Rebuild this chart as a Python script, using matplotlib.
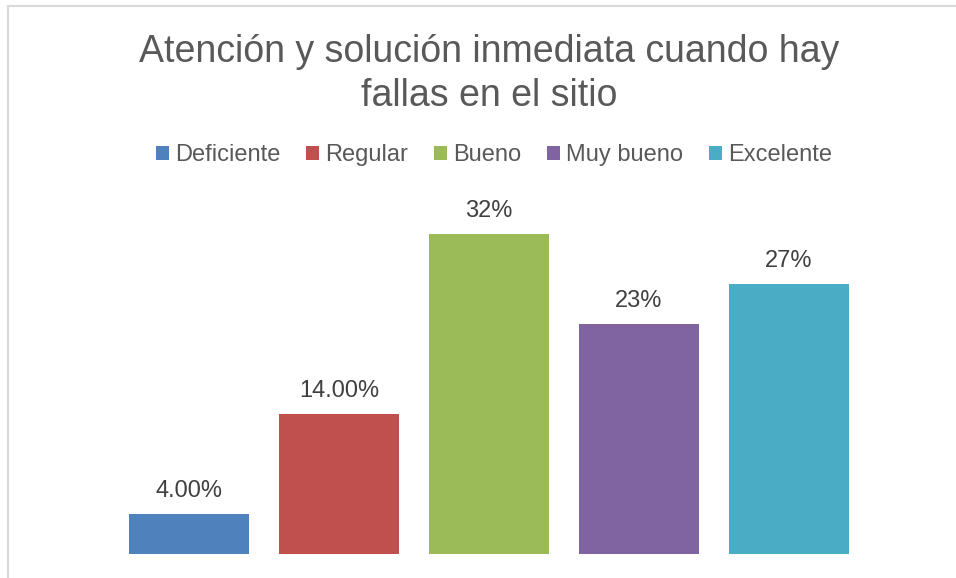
import matplotlib.pyplot as plt
from matplotlib.lines import Line2D

plt.rcParams['font.family'] = ['Liberation Sans', 'DejaVu Sans']

categories = ["Deficiente", "Regular", "Bueno", "Muy bueno", "Excelente"]
values = [0.04, 0.14, 0.32, 0.23, 0.27]
labels = ["4.00%", "14.00%", "32%", "23%", "27%"]
colors = ["#4F81BD", "#C0504D", "#9BBB59", "#8064A2", "#4BACC6"]

W, H = 956, 578
fig = plt.figure(figsize=(W / 100, H / 100), dpi=100)

# plot area in pixels: x 114..864, y baseline 554, top 204 (=0.35)
ax = fig.add_axes([114 / W, (H - 554) / H, 750 / W, 350 / H])
x = range(len(categories))
bars = ax.bar(x, values, width=0.8, color=colors, label=categories)
ax.set_xlim(-0.5, len(categories) - 0.5)
ax.set_ylim(0, 0.35)
ax.axis("off")

for b, lab in zip(bars, labels):
    ax.annotate(lab, (b.get_x() + b.get_width() / 2, b.get_height()),
                xytext=(0, 12), textcoords="offset points",
                ha="center", va="baseline", fontsize=17, color="#404040")

fig.text(489 / W, 1 - 74 / H, "Atención y solución inmediata cuando hay\nfallas en el sitio",
         ha="center", va="center", fontsize=27, color="#595959", linespacing=1.32)

leg = fig.legend(handles=list(bars), labels=categories, ncol=5, loc="center",
                 bbox_to_anchor=(494 / W, 1 - 155 / H), frameon=False,
                 fontsize=17, handlelength=0.55, handleheight=0.55,
                 handletextpad=0.25, columnspacing=1.1)
for t in leg.get_texts():
    t.set_color("#595959")

# chart border (left and top edges visible)
fig.add_artist(Line2D([8 / W, 8 / W], [0, 1 - 6 / H], color="#D9D9D9", lw=1.5))
fig.add_artist(Line2D([8 / W, 1], [1 - 6 / H, 1 - 6 / H], color="#D9D9D9", lw=1.5))

fig.savefig("out.png", dpi=100)
